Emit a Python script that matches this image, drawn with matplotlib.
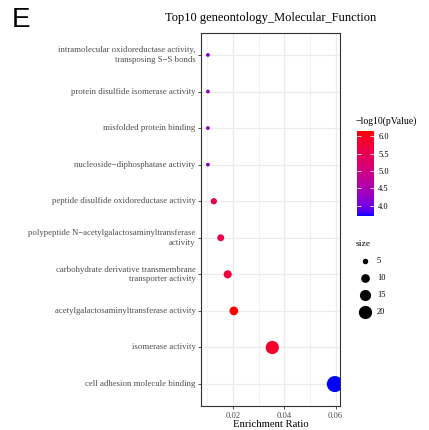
import numpy as np
import matplotlib
matplotlib.use('Agg')
import matplotlib.pyplot as plt
from matplotlib.colors import LinearSegmentedColormap, Normalize

plt.rcParams['font.family'] = ['Liberation Serif', 'DejaVu Serif']

# данные
terms = [
    "intramolecular oxidoreductase activity,\ntransposing S\u2212S bonds",
    "protein disulfide isomerase activity",
    "misfolded protein binding",
    "nucleoside\u2212diphosphatase activity",
    "peptide disulfide oxidoreductase activity",
    "polypeptide N\u2212acetylgalactosaminyltransferase\nactivity",
    "carbohydrate derivative transmembrane\ntransporter activity",
    "acetylgalactosaminyltransferase activity",
    "isomerase activity",
    "cell adhesion molecule binding",
]
ratio = [0.0102, 0.0102, 0.0102, 0.0102, 0.0125, 0.0152, 0.0179, 0.0203, 0.0353, 0.0597]
logp = [4.15, 4.15, 4.15, 4.15, 5.5, 5.6, 5.75, 6.15, 5.9, 3.7]
count = [3, 3, 3, 3, 6, 7, 9, 10, 20, 28]
size_breaks = [5, 10, 15, 20]
cbar_ticks = [4.0, 4.5, 5.0, 5.5, 6.0]


# градиент blue -> red в Lab, как в ggplot
def srgb_to_lab(c):
    c = np.array(c, dtype=float)
    lin = np.where(c <= 0.04045, c / 12.92, ((c + 0.055) / 1.055) ** 2.4)
    m = np.array([[0.4124, 0.3576, 0.1805], [0.2126, 0.7152, 0.0722], [0.0193, 0.1192, 0.9505]])
    xyz = m @ lin / np.array([0.95047, 1.0, 1.08883])
    f = np.where(xyz > 0.008856, np.cbrt(xyz), 7.787 * xyz + 16 / 116)
    return np.array([116 * f[1] - 16, 500 * (f[0] - f[1]), 200 * (f[1] - f[2])])


def lab_to_srgb(lab):
    fy = (lab[0] + 16) / 116
    f = np.array([fy + lab[1] / 500, fy, fy - lab[2] / 200])
    xyz = np.where(f ** 3 > 0.008856, f ** 3, (f - 16 / 116) / 7.787) * np.array([0.95047, 1.0, 1.08883])
    mi = np.array([[3.2406, -1.5372, -0.4986], [-0.9689, 1.8758, 0.0415], [0.0557, -0.2040, 1.0570]])
    lin = np.clip(mi @ xyz, 0, 1)
    return np.where(lin <= 0.0031308, 12.92 * lin, 1.055 * lin ** (1 / 2.4) - 0.055)


lab_lo = srgb_to_lab([0, 0, 1])
lab_hi = srgb_to_lab([1, 0, 0])
cols = [lab_to_srgb(lab_lo + t * (lab_hi - lab_lo)) for t in np.linspace(0, 1, 64)]
cmap = LinearSegmentedColormap.from_list('bluered', cols)
norm = Normalize(min(logp), max(logp))


def diam_px(v):
    return -2.2 + 3.45 * np.sqrt(v)


dpi = 100
fig = plt.figure(figsize=(4.29, 4.30), dpi=dpi)
ax = fig.add_axes([201 / 429, 1 - 406 / 430, 139 / 429, 373 / 430])

ypos = np.arange(len(terms))
sizes = [(diam_px(v) * 72 / dpi) ** 2 for v in count]
sc = ax.scatter(ratio, ypos, s=sizes, c=logp, cmap=cmap, norm=norm, linewidths=0, zorder=3)

ax.set_xlim(0.0075, 0.0617)
ax.set_ylim(len(terms) - 0.4, -0.6)
ax.set_xticks([0.02, 0.04, 0.06])
ax.set_xticklabels(['0.02', '0.04', '0.06'])
ax.set_xticks([0.01, 0.03, 0.05], minor=True)
ax.set_yticks(ypos)
ax.set_yticklabels(terms, fontsize=6.3, color='#4D4D4D', va='center', linespacing=1.25)
ax.tick_params(axis='x', labelsize=6.2, labelcolor='#4D4D4D', length=2.5, width=0.6, color='#333333', pad=1.5)
ax.tick_params(axis='x', which='minor', length=0)
ax.tick_params(axis='y', length=2.5, width=0.6, color='#333333', pad=1.5)
ax.grid(True, which='major', color='#EBEBEB', lw=0.9, zorder=0)
ax.grid(True, which='minor', axis='x', color='#EBEBEB', lw=0.5, zorder=0)
for sp in ax.spines.values():
    sp.set_color('#333333')
    sp.set_linewidth(0.8)
ax.set_xlabel('Enrichment Ratio', fontsize=7.7, labelpad=0.5)
ax.set_title('Top10 geneontology_Molecular_Function', fontsize=9, pad=9)

# легенда цвета
cax = fig.add_axes([357 / 429, 1 - 216 / 430, 17 / 429, 85 / 430])
cb = fig.colorbar(sc, cax=cax, ticks=cbar_ticks)
cb.outline.set_visible(False)
cax.tick_params(axis='y', which='both', direction='in', color='white', length=3, width=0.6,
                left=True, right=True, labelsize=6, pad=3)
cax.set_yticklabels([f'{t:.1f}' for t in cbar_ticks])

# легенда размера и надписи
lax = fig.add_axes([0, 0, 1, 1], facecolor='none')
lax.set_xlim(0, 429)
lax.set_ylim(430, 0)
lax.axis('off')
lax.text(356, 121, '\u2212log10(pValue)', fontsize=7, va='center', ha='left')
lax.text(356, 244, 'size', fontsize=6.8, va='center', ha='left')
for i, v in enumerate(size_breaks):
    yy = 261 + 17 * i
    lax.scatter([365], [yy], s=(diam_px(v) * 72 / dpi) ** 2, color='black', linewidths=0)
    lax.text(377, yy, str(v), fontsize=6, va='center', ha='left')
lax.text(271, -2, 'Enrichment Ratio', fontsize=7.7, va='center', ha='center')
lax.text(12, 20, 'E', fontsize=20, va='center', ha='left', family='Liberation Sans')

plt.savefig('out.png', dpi=dpi)
